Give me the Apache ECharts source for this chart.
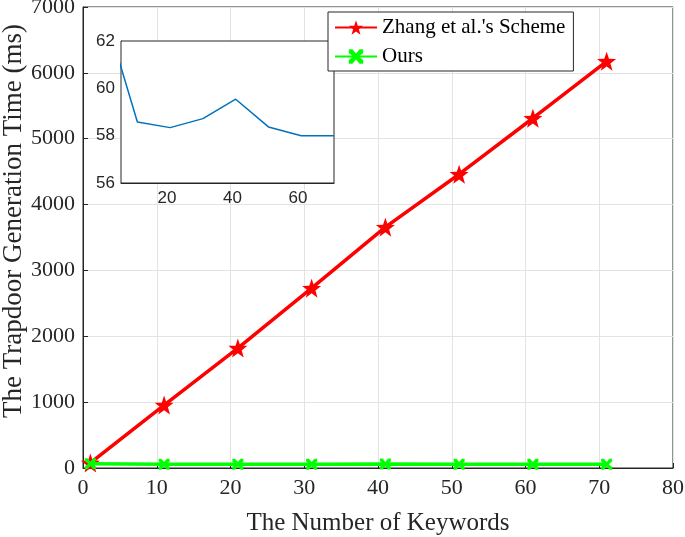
<!DOCTYPE html>
<html>
<head>
<meta charset="utf-8">
<script src="https://cdn.jsdelivr.net/npm/echarts@6/dist/echarts.min.js"></script>
<style>
  html, body { margin: 0; padding: 0; background: #fff; }
  #chart { width: 685px; height: 537px; }
</style>
</head>
<body>
<div id="chart"></div>
<script>
// keyword counts
var keywords = [1, 11, 21, 31, 41, 51, 61, 71];
// trapdoor generation time (ms)
var zhangTime = [76, 956, 1821, 2731, 3657, 4461, 5311, 6176];
var oursTime = [63.2, 58.58, 58.34, 58.72, 59.54, 58.37, 58.0, 58.0];
var insetTicks = [20, 40, 60];

var starPath = "path://M0,-10L2.35,-3.24L9.51,-3.09L3.8,1.24L5.88,8.09L0,4L-5.88,8.09L-3.8,1.24L-9.51,-3.09L-2.35,-3.24Z";
var crossPath = "path://M0,0L2.5,0L5,3L7.5,0L10,0L10,2.5L7,5L10,7.5L10,10L7.5,10L5,7L2.5,10L0,10L0,7.5L3,5L0,2.5Z";

function pairs(xs, ys) {
  return xs.map(function (x, i) { return [x, ys[i]]; });
}

var serif = "Liberation Serif";
var sans = "Liberation Sans";
var axisColor = "#262626";

var chart = echarts.init(document.getElementById("chart"));
chart.setOption({
  animation: false,
  grid: [
    {
      left: 83, top: 7, right: 12, bottom: 69,
      outerBoundsMode: "none", containLabel: false,
      show: true, borderColor: axisColor, borderWidth: 1
    },
    {
      left: 121, top: 41, width: 213, height: 142,
      outerBoundsMode: "none", containLabel: false,
      show: true, borderColor: axisColor, borderWidth: 1,
      backgroundColor: "#fff", z: 5
    }
  ],
  graphic: [
    {
      type: "text",
      x: 14, y: 221,
      rotation: Math.PI / 2,
      style: {
        text: "The Trapdoor Generation Time (ms)",
        fontFamily: serif, fontSize: 27, fill: "#262626",
        align: "center", verticalAlign: "middle"
      }
    }
  ],
  legend: {
    left: 328, top: 12,
    orient: "vertical",
    data: ["Zhang et al.'s Scheme", "Ours"],
    backgroundColor: "#fff",
    borderColor: axisColor,
    borderWidth: 1,
    padding: [5, 8, 4, 6],
    itemWidth: 42,
    itemHeight: 18,
    itemGap: 8,
    textStyle: { fontFamily: serif, fontSize: 21, color: "#000" },
    z: 10
  },
  xAxis: [
    {
      gridIndex: 0, type: "value", min: 0, max: 80, interval: 10,
      name: "The Number of Keywords", nameLocation: "middle", nameGap: 43,
      nameTextStyle: { fontFamily: serif, fontSize: 25, color: "#262626" },
      axisLine: { show: true, lineStyle: { color: axisColor } },
      axisTick: { show: true, inside: true, length: 5, lineStyle: { color: axisColor } },
      axisLabel: { fontFamily: serif, fontSize: 22, color: "#262626", margin: 9 },
      splitLine: { show: true, lineStyle: { color: "#e3e3e3" } }
    },
    {
      gridIndex: 1, type: "value", min: 6, max: 71,
      axisLine: { show: true, lineStyle: { color: axisColor } },
      axisTick: { show: true, inside: true, length: 4, customValues: insetTicks, lineStyle: { color: axisColor } },
      axisLabel: { fontFamily: sans, fontSize: 17, color: "#262626", margin: 7, customValues: insetTicks },
      splitLine: { show: false }
    }
  ],
  yAxis: [
    {
      gridIndex: 0, type: "value", min: 0, max: 7000, interval: 1000,
      axisLine: { show: true, lineStyle: { color: axisColor } },
      axisTick: { show: true, inside: true, length: 5, lineStyle: { color: axisColor } },
      axisLabel: { fontFamily: serif, fontSize: 22, color: "#262626", margin: 8,
        formatter: function (v) { return String(v); } },
      splitLine: { show: true, lineStyle: { color: "#e3e3e3" } }
    },
    {
      gridIndex: 1, type: "value", min: 56, max: 62, interval: 2,
      axisLine: { show: true, lineStyle: { color: axisColor } },
      axisTick: { show: true, inside: true, length: 4, lineStyle: { color: axisColor } },
      axisLabel: { fontFamily: sans, fontSize: 17, color: "#262626", margin: 6 },
      splitLine: { show: false }
    }
  ],
  series: [
    {
      name: "Zhang et al.'s Scheme", type: "line",
      xAxisIndex: 0, yAxisIndex: 0,
      data: pairs(keywords, zhangTime),
      color: "#ff0000",
      lineStyle: { width: 3.5, color: "#ff0000" },
      symbol: starPath, symbolSize: 19,
      itemStyle: { color: "#ff0000" },
      z: 3
    },
    {
      name: "Ours", type: "line",
      xAxisIndex: 0, yAxisIndex: 0,
      data: pairs(keywords, oursTime),
      color: "#00ff00",
      lineStyle: { width: 3.5, color: "#00ff00" },
      symbol: crossPath, symbolSize: 11,
      itemStyle: { color: "#00ff00" },
      z: 4
    },
    {
      name: "inset", type: "line",
      xAxisIndex: 1, yAxisIndex: 1,
      data: pairs(keywords, oursTime),
      lineStyle: { width: 1.5, color: "#0072bd" },
      symbol: "none",
      clip: true,
      z: 6
    }
  ]
});
</script>
</body>
</html>
